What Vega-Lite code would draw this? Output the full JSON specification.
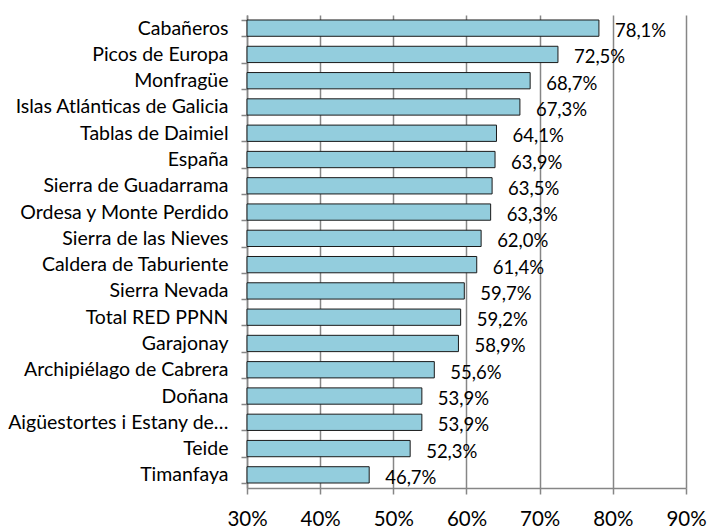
{
  "$schema": "https://vega.github.io/schema/vega-lite/v6.json",
  "width": 439,
  "height": 473,
  "autosize": {"type": "none"},
  "padding": {"left": 247, "top": 15, "right": 24, "bottom": 43},
  "background": "white",
  "config": {
    "locale": {"number": {"decimal": ",", "thousands": ".", "grouping": [3], "currency": ["", " €"]}},
    "view": {"stroke": null},
    "font": "Lato"
  },
  "data": {
    "values": [
      {"parque": "Cabañeros", "valor": 0.781},
      {"parque": "Picos de Europa", "valor": 0.725},
      {"parque": "Monfragüe", "valor": 0.687},
      {"parque": "Islas Atlánticas de Galicia", "valor": 0.673},
      {"parque": "Tablas de Daimiel", "valor": 0.641},
      {"parque": "España", "valor": 0.639},
      {"parque": "Sierra de Guadarrama", "valor": 0.635},
      {"parque": "Ordesa y Monte Perdido", "valor": 0.633},
      {"parque": "Sierra de las Nieves", "valor": 0.620},
      {"parque": "Caldera de Taburiente", "valor": 0.614},
      {"parque": "Sierra Nevada", "valor": 0.597},
      {"parque": "Total RED PPNN", "valor": 0.592},
      {"parque": "Garajonay", "valor": 0.589},
      {"parque": "Archipiélago de Cabrera", "valor": 0.556},
      {"parque": "Doñana", "valor": 0.539},
      {"parque": "Aigüestortes i Estany de…", "valor": 0.539},
      {"parque": "Teide", "valor": 0.523},
      {"parque": "Timanfaya", "valor": 0.467}
    ]
  },
  "encoding": {
    "y": {
      "field": "parque",
      "type": "nominal",
      "sort": null,
      "scale": {"paddingInner": 0.38, "paddingOuter": 0.19},
      "axis": {
        "title": null,
        "tickBand": "extent",
        "domainColor": "#868686",
        "domainWidth": 1.5,
        "tickColor": "#868686",
        "tickWidth": 1.5,
        "tickSize": 6,
        "labelPadding": 13,
        "labelFontSize": 19.5,
        "labelColor": "#000000",
        "labelFont": "Lato",
        "labelLimit": 260
      }
    }
  },
  "layer": [
    {
      "mark": {"type": "bar", "fill": "#93CDDD", "stroke": "#1a1a1a", "strokeWidth": 1},
      "encoding": {
        "x": {
          "field": "valor",
          "type": "quantitative",
          "scale": {"domain": [0.3, 0.9], "zero": false, "nice": false},
          "axis": {
            "title": null,
            "format": ".0%",
            "values": [0.3, 0.4, 0.5, 0.6, 0.7, 0.8, 0.9],
            "grid": true,
            "gridColor": "#868686",
            "gridWidth": 1.5,
            "domainColor": "#868686",
            "domainWidth": 1.5,
            "tickColor": "#868686",
            "tickWidth": 1.5,
            "tickSize": 6,
            "labelPadding": 15,
            "labelFontSize": 20.5,
            "labelColor": "#000000",
            "labelFont": "Lato",
            "labelFlush": false
          }
        },
        "x2": {"datum": 0.3}
      }
    },
    {
      "mark": {"type": "text", "align": "left", "baseline": "middle", "dx": 16, "dy": 3, "fontSize": 18.5, "font": "Lato", "color": "#000000"},
      "encoding": {
        "x": {"field": "valor", "type": "quantitative"},
        "text": {"field": "valor", "type": "quantitative", "format": ".1%"}
      }
    }
  ]
}
